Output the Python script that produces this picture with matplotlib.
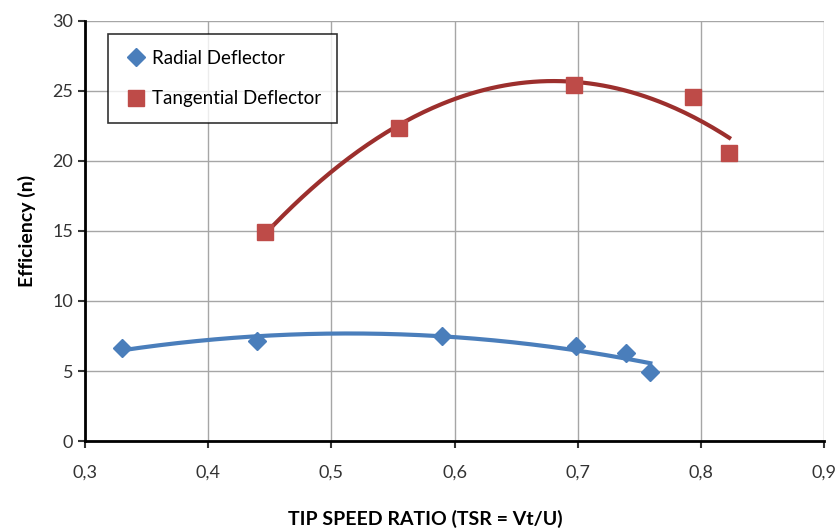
import numpy as np
import matplotlib.pyplot as plt
from matplotlib.ticker import FuncFormatter

plt.rcParams['font.family'] = ['Lato', 'DejaVu Sans']

# measured data
radial_tsr = [0.330, 0.440, 0.590, 0.699, 0.739, 0.759]
radial_eff = [6.65, 7.15, 7.5, 6.8, 6.3, 4.95]
tang_tsr = [0.446, 0.555, 0.697, 0.794, 0.823]
tang_eff = [14.9, 22.35, 25.4, 24.6, 20.55]

blue = '#4a7ebb'
red = '#be4b48'
blue_line = '#4a7ebb'
red_line = '#9c2f2d'

fig = plt.figure(figsize=(8.38, 5.29), dpi=100)
ax = fig.add_axes([85/838, 1-441/529, (824-85)/838, (441-21)/529])

# polynomial trendlines (order 2) like the spreadsheet
for xs, ys, c in [(radial_tsr, radial_eff, blue_line), (tang_tsr, tang_eff, red_line)]:
    p = np.polyfit(xs, ys, 2)
    xx = np.linspace(min(xs), max(xs), 200)
    ax.plot(xx, np.polyval(p, xx), color=c, lw=3, zorder=2)

ax.plot(radial_tsr, radial_eff, 'D', color=blue, ms=9, ls='none',
        label='Radial Deflector', zorder=3)
ax.plot(tang_tsr, tang_eff, 's', color=red, ms=11, ls='none',
        label='Tangential Deflector', zorder=3)

ax.set_xlim(0.3, 0.9)
ax.set_ylim(0, 30)
ax.set_xticks(np.arange(0.3, 0.91, 0.1))
ax.set_yticks(range(0, 31, 5))
ax.xaxis.set_major_formatter(FuncFormatter(lambda v, _: f'{v:.1f}'.replace('.', ',')))
ax.grid(True, color='#a6a6a6', lw=1)
ax.set_axisbelow(True)

for s in ['top', 'right']:
    ax.spines[s].set_visible(False)
for s in ['left', 'bottom']:
    ax.spines[s].set_linewidth(2)
ax.tick_params(direction='out', length=5, width=1.5, labelsize=13, colors='#333333')
ax.tick_params(axis='x', pad=12)

ax.set_xlabel('TIP SPEED RATIO (TSR = Vt/U)', fontsize=14, fontweight='bold', labelpad=22)
ax.xaxis.set_label_coords((425-85)/739, -0.165)
ax.set_ylabel('Efficiency (n)', fontsize=14, fontweight='bold', labelpad=12)

leg = ax.legend(loc='upper left', bbox_to_anchor=((108-85)/739, (441-34)/420),
                fontsize=13.5, frameon=True, fancybox=False, edgecolor='black',
                borderpad=0.85, labelspacing=1.25, handletextpad=0.2,
                handlelength=1.3, borderaxespad=0)
leg.get_frame().set_linewidth(1.2)

fig.savefig('out.png', dpi=100)
